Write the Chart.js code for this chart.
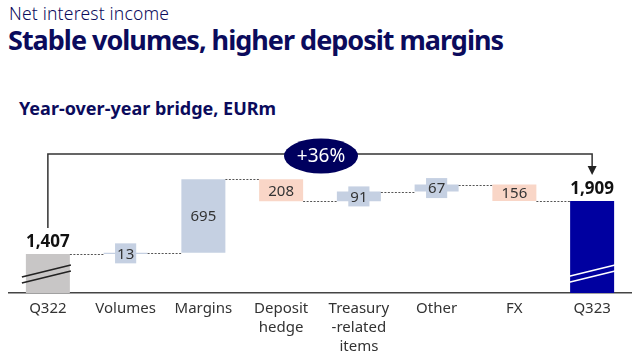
<!DOCTYPE html>
<html>
<head>
<meta charset="utf-8">
<script src="https://cdn.jsdelivr.net/npm/chart.js@4.4.0/dist/chart.umd.min.js"></script>
<style>
  html, body { margin: 0; padding: 0; background: #fff; }
  body { width: 638px; height: 359px; position: relative; overflow: hidden; font-family: "Noto Sans", sans-serif; }
  .kicker { position: absolute; left: 9px; top: 1px; font-size: 17.5px; font-weight: 300; color: #0b0b5c; letter-spacing: 0.2px; white-space: nowrap; }
  .title { position: absolute; left: 8px; top: 21px; font-size: 27px; font-weight: 700; color: #0b0b5c; letter-spacing: -1px; white-space: nowrap; }
  .sub { position: absolute; left: 19px; top: 96px; font-size: 18px; font-weight: 700; color: #0b0b5c; letter-spacing: 0; white-space: nowrap; }
  #chart { position: absolute; left: 0; top: 0; }
</style>
</head>
<body>
<div class="kicker">Net interest income</div>
<div class="title">Stable volumes, higher deposit margins</div>
<div class="sub">Year-over-year bridge, EURm</div>
<canvas id="chart" width="638" height="359"></canvas>
<script>
// Bridge data (EURm)
const categories = [['Q322'], ['Volumes'], ['Margins'], ['Deposit', 'hedge'], ['Treasury', '-related', 'items'], ['Other'], ['FX'], ['Q323']];
const startValue = 1407;
const endValue = 1909;
const changes = [13, 695, -208, 91, 67, -156];
const growthLabel = '+36%';

// broken axis: bars start here
const axisMin = 1038;
const axisMax = 2392;

const colors = {
  start: '#c8c6c6',
  end: '#0000a0',
  up: '#c5d0e2',
  down: '#f9d6c7',
  navy: '#00005e'
};

// Build floating bars [from, to]
const bars = [[axisMin, startValue]];
const barColors = [colors.start];
let level = startValue;
changes.forEach(c => {
  bars.push([level, level + c]);
  barColors.push(c >= 0 ? colors.up : colors.down);
  level += c;
});
bars.push([axisMin, endValue]);
barColors.push(colors.end);

const fmt = v => v.toLocaleString('en-US');

const bridgePlugin = {
  id: 'bridge',
  afterDatasetsDraw(chart) {
    const { ctx } = chart;
    const meta = chart.getDatasetMeta(0);
    const y = chart.scales.y;
    ctx.save();

    // dashed connectors
    ctx.strokeStyle = '#555';
    ctx.lineWidth = 1;
    ctx.setLineDash([2, 1.5]);
    for (let i = 0; i < bars.length - 1; i++) {
      const a = meta.data[i], b = meta.data[i + 1];
      const lvl = i === 0 ? startValue : bars[i][1];
      const py = Math.round(y.getPixelForValue(lvl)) + 0.5;
      ctx.beginPath();
      ctx.moveTo(a.x + a.width / 2, py);
      ctx.lineTo(b.x - b.width / 2, py);
      ctx.stroke();
    }
    ctx.setLineDash([]);

    // change labels
    ctx.font = '15px "Noto Sans"';
    ctx.textAlign = 'center';
    ctx.textBaseline = 'middle';
    changes.forEach((c, j) => {
      const el = meta.data[j + 1];
      const top = y.getPixelForValue(Math.max(...bars[j + 1]));
      const bot = y.getPixelForValue(Math.min(...bars[j + 1]));
      const cy = (top + bot) / 2;
      const txt = String(Math.abs(c));
      if (bot - top < 15) {
        const w = ctx.measureText(txt).width + 4;
        ctx.fillStyle = barColors[j + 1];
        ctx.fillRect(el.x - w / 2, cy - 10, w, 20);
      }
      ctx.fillStyle = '#333';
      ctx.fillText(txt, el.x, cy + 1);
    });

    // axis break marks
    [[0, '#222'], [bars.length - 1, '#fff']].forEach(([i, col]) => {
      const el = meta.data[i];
      const x0 = el.x - el.width / 2 - 4, x1 = el.x + el.width / 2 + 1;
      const base = y.getPixelForValue(axisMin);
      ctx.strokeStyle = col;
      ctx.lineWidth = 1.6;
      [0, 6].forEach(off => {
        ctx.beginPath();
        ctx.moveTo(x0, base - 16 + off);
        ctx.lineTo(x1, base - 28 + off);
        ctx.stroke();
      });
    });

    // totals
    ctx.font = 'bold 17px "Noto Sans"';
    ctx.fillStyle = '#111';
    [[0, startValue], [bars.length - 1, endValue]].forEach(([i, v]) => {
      ctx.fillText(fmt(v), meta.data[i].x, y.getPixelForValue(v) - 12);
    });

    // growth bracket
    const xa = meta.data[0].x, xb = meta.data[bars.length - 1].x;
    const yTop = 154;
    ctx.strokeStyle = '#333';
    ctx.lineWidth = 1.5;
    ctx.beginPath();
    ctx.moveTo(xa, y.getPixelForValue(startValue) - 26);
    ctx.lineTo(xa, yTop);
    ctx.lineTo(xb, yTop);
    ctx.lineTo(xb, 167);
    ctx.stroke();
    ctx.fillStyle = '#222';
    ctx.beginPath();
    ctx.moveTo(xb - 4.5, 166);
    ctx.lineTo(xb + 4.5, 166);
    ctx.lineTo(xb, 175);
    ctx.closePath();
    ctx.fill();

    // growth bubble
    const ex = (chart.chartArea.left + chart.chartArea.right) / 2 + 1;
    ctx.fillStyle = colors.navy;
    ctx.beginPath();
    ctx.ellipse(ex, 156, 37, 17.5, 0, 0, Math.PI * 2);
    ctx.fill();
    ctx.fillStyle = '#fff';
    ctx.font = '19px "Noto Sans"';
    ctx.fillText(growthLabel, ex, 157);

    ctx.restore();
  }
};

new Chart(document.getElementById('chart'), {
  type: 'bar',
  data: {
    labels: categories,
    datasets: [{
      data: bars,
      backgroundColor: barColors,
      borderWidth: 0,
      barPercentage: 1,
      categoryPercentage: 0.566
    }]
  },
  options: {
    responsive: false,
    animation: false,
    layout: { padding: { top: 150, left: 9, right: 7, bottom: 0 } },
    plugins: { legend: { display: false }, tooltip: { enabled: false } },
    scales: {
      x: {
        afterFit: s => { s.height = 66; },
        grid: { display: true, drawOnChartArea: false, drawTicks: false },
        border: { display: true, color: '#444', width: 1.5 },
        ticks: {
          color: '#333',
          padding: 6,
          maxRotation: 0,
          autoSkip: false,
          font: { family: 'Noto Sans', size: 15, lineHeight: 1.27 }
        }
      },
      y: {
        display: false,
        min: axisMin,
        max: axisMax
      }
    }
  },
  plugins: [bridgePlugin]
});
</script>
</body>
</html>
